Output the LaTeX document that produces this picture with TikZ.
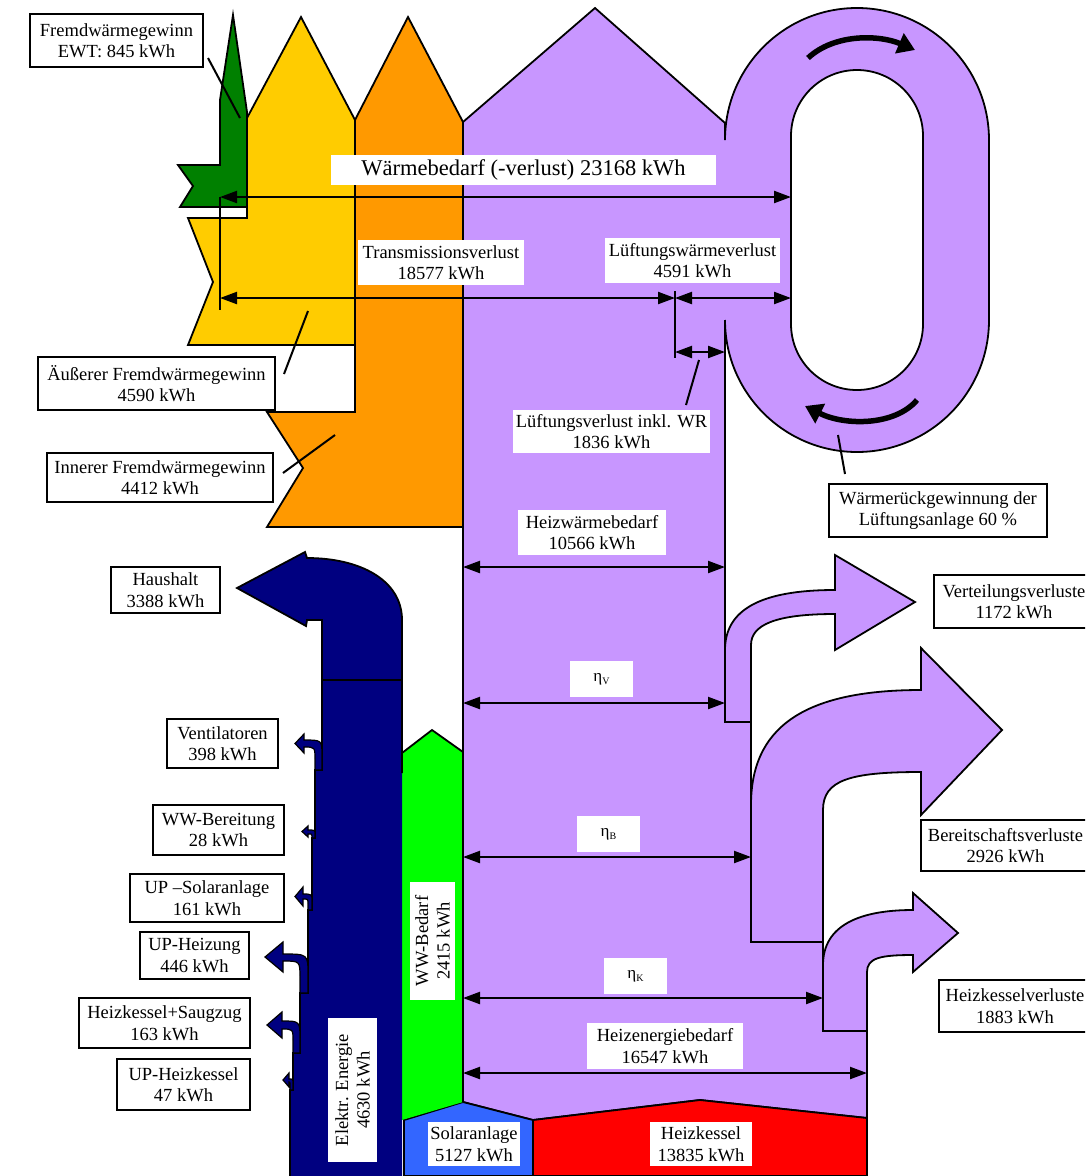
\documentclass[tikz,border=0pt]{standalone}
\usepackage{fontspec}
\setmainfont{Liberation Serif}
\usetikzlibrary{arrows.meta}
\definecolor{purp}{RGB}{200,150,255}
\definecolor{yel}{RGB}{255,204,0}
\definecolor{org}{RGB}{255,153,0}
\definecolor{dgreen}{RGB}{0,128,0}
\definecolor{navyb}{RGB}{0,0,128}
\definecolor{lgreen}{RGB}{0,255,0}
\definecolor{solblue}{RGB}{51,102,255}
\definecolor{hkred}{RGB}{255,0,0}
\newcommand\lblfont{\fontsize{18.5}{21.5}\selectfont}
\newcommand\bigfont{\fontsize{22.5}{26}\selectfont}
\newcommand\etalbl[1]{{\fontsize{17}{20}\selectfont η\raisebox{-3pt}{\fontsize{10}{12}\selectfont #1}}}
\tikzset{
  flow/.style={draw=black, line width=1.8pt, line join=miter},
  dim/.style={line width=2.2pt, {Triangle[length=17pt,width=12pt]}-{Triangle[length=17pt,width=12pt]}},
  lead/.style={line width=2pt},
  lbl/.style={fill=white, inner sep=0pt, align=center, font=\lblfont},
  bx/.style={lbl, draw=black, line width=2.2pt},
  rot/.style={line width=5.5pt, -{Triangle[length=17pt,width=21pt]}}
}
\begin{document}
\begin{tikzpicture}[x=1pt,y=-1pt]
\useasboundingbox (0,0) rectangle (1085,1176);
\clip (0,0) rectangle (1085,1176);

% ---- external gains (top left)
\path[flow, fill=dgreen] (233,15) -- (247,112) -- (247,207) -- (180,207) -- (193,186) -- (178,165) -- (220,165) -- (220,100) -- cycle;
\draw[line width=1.8pt] (247,207) -- (247,218);
\path[flow, fill=yel] (247,218) -- (247,118) -- (301,17) -- (355,120) -- (355,345) -- (188,345) -- (213,282) -- (188,218) -- cycle;
\path[flow, fill=org] (355,120) -- (408,17) -- (463,122) -- (463,527) -- (267,527) -- (303,468) -- (267,412) -- (355,412) -- cycle;

% ---- main purple flow with ventilation loop and losses
\path[flow, fill=purp] (463,122) -- (595,8) -- (725,123) -- (725,140)
  arc[start angle=180, end angle=0, radius=132pt] -- (989,320)
  arc[start angle=0, end angle=-180, radius=132pt] -- (725,650)
  .. controls (725,610) and (760,590) .. (835,590) -- (835,555) -- (915,602) -- (835,650) -- (835,614)
  .. controls (775,614) and (751,625) .. (751,645) -- (751,805)
  .. controls (751,730) and (800,690) .. (921,690) -- (921,648) -- (1002,730) -- (921,815) -- (921,772)
  .. controls (850,772) and (823,780) .. (823,810) -- (823,965)
  .. controls (823,925) and (860,910) .. (913,910) -- (913,893) -- (958,933) -- (913,972) -- (913,955)
  .. controls (880,955) and (867,958) .. (867,972) -- (867,1118) -- (700,1100) -- (533,1120) -- (463,1102) -- cycle;
\path[flow, fill=white] (791,136) arc[start angle=180, end angle=0, radius=66pt] -- (923,324)
  arc[start angle=0, end angle=-180, radius=66pt] -- cycle;
\draw[line width=1.8pt] (725,650) -- (725,722) -- (751,722);
\draw[line width=1.8pt] (751,805) -- (751,942) -- (823,942);
\draw[line width=1.8pt] (823,965) -- (823,1031) -- (867,1031);
\draw[rot] (808,58) .. controls (835,33) and (880,35) .. (915,50);
\draw[rot] (917,400) .. controls (895,426) and (845,426) .. (805,406);

% ---- sources at the bottom
\path[flow, fill=hkred] (533,1120) -- (700,1100) -- (867,1118) -- (867,1176) -- (533,1176) -- cycle;
\path[flow, fill=solblue] (404,1120) -- (463,1102) -- (533,1120) -- (533,1176) -- (404,1176) -- cycle;
\fill[lgreen] (402,753) -- (432,730) -- (463,752) -- (463,1102) -- (402,1120) -- cycle;
\draw[line width=1.8pt] (402,753) -- (432,730) -- (463,752);
\draw[line width=1.8pt] (463,122) -- (463,1102);

% ---- electric energy
\fill[navyb] (402,1176) -- (402,620) .. controls (402,580) and (360,558) .. (307,558) -- (305,552) -- (237,588) -- (306,626) -- (307,620) -- (322,620) -- (322,770) -- (315,770) -- (315,838) -- (312,838) -- (312,910) -- (308,910) -- (308,993) -- (300,993) -- (300,1053) -- (293,1053) -- (293,1090) -- (290,1090) -- (290,1176) -- cycle;
\draw[line width=1.8pt, line join=miter] (402,773) -- (402,620) .. controls (402,580) and (360,558) .. (307,558) -- (305,552) -- (237,588) -- (306,626) -- (307,620) -- (322,620) -- (322,770) -- (315,770) -- (315,838) -- (312,838) -- (312,910) -- (308,910) -- (308,993) -- (300,993) -- (300,1053) -- (293,1053) -- (293,1090) -- (290,1090) -- (290,1176);
\draw[line width=1.8pt] (322,680) -- (402,680);
\path[flow, line width=1.2pt, fill=navyb] (322,770) -- (322,756) .. controls (322,740) .. (304,740) -- (304,734) -- (295,743.5) -- (304,753) -- (304,747) .. controls (315,747) .. (315,760) -- (315,770) -- cycle;
\path[flow, line width=1.2pt, fill=navyb] (315,838) -- (315,834) .. controls (315,830) .. (308,830) -- (308,826) -- (302,831.5) -- (308,837) -- (308,834) .. controls (312,834) .. (312,836) -- (312,838) -- cycle;
\path[flow, line width=1.2pt, fill=navyb] (312,910) -- (312,902) .. controls (312,894) .. (303,894) -- (303,887) -- (295,896.5) -- (303,906) -- (303,899) .. controls (308,899) .. (308,904) -- (308,910) -- cycle;
\path[flow, line width=1.2pt, fill=navyb] (308,993) -- (308,975) .. controls (308,954) .. (283,954) -- (283,942) -- (265,957) -- (283,972) -- (283,961) .. controls (300,961) .. (300,978) -- (300,993) -- cycle;
\path[flow, line width=1.2pt, fill=navyb] (300,1053) -- (300,1040) .. controls (300,1021) .. (282,1021) -- (282,1012) -- (267,1025) -- (282,1038) -- (282,1029) .. controls (293,1029) .. (293,1041) -- (293,1053) -- cycle;
\path[flow, line width=1.2pt, fill=navyb] (293,1090) -- (293,1084) .. controls (293,1079) .. (289,1079) -- (289,1073) -- (283,1080) -- (289,1087) -- (289,1082) .. controls (290,1082) .. (290,1085) -- (290,1090) -- cycle;

% ---- dimension arrows
\coordinate (dL1) at (220,197); \coordinate (dR1) at (791,197);
\coordinate (dL2) at (220,298); \coordinate (dM2) at (675,298); \coordinate (dR2) at (791,298);
\coordinate (dL3) at (675,352); \coordinate (dR3) at (725,352);
\coordinate (hwL) at (463,567); \coordinate (hwR) at (725,567);
\coordinate (evL) at (463,703); \coordinate (evR) at (725,703);
\coordinate (ebL) at (463,857); \coordinate (ebR) at (751,857);
\coordinate (ekL) at (463,998); \coordinate (ekR) at (823,998);
\coordinate (heL) at (463,1073); \coordinate (heR) at (867,1073);
\draw[line width=1.5pt] (220,197) -- (220,273);
\draw[line width=2.5pt] (220,273) -- (220,310);
\draw[line width=1.8pt] (675,291) -- (675,358);
\draw[dim] (dL1) -- (dR1);
\draw[dim] (dL2) -- (dM2);
\draw[dim] (dM2) -- (dR2);
\draw[dim] (dL3) -- (dR3);
\draw[dim] (hwL) -- (hwR);
\draw[dim] (evL) -- (evR);
\draw[dim] (ebL) -- (ebR);
\draw[dim] (ekL) -- (ekR);
\draw[dim] (heL) -- (heR);

% ---- labels
\node[bx, minimum width=173pt, minimum height=53pt] (ewt) at (116.5,40.5) {Fremdwärmegewinn\\EWT: 845 kWh};
\node[lbl, font=\bigfont, minimum width=385pt, minimum height=30pt] (wb) at (523.5,170) {Wärmebedarf (-verlust) 23168 kWh};
\node[lbl, minimum width=166pt, minimum height=45pt] (tv) at (441,262.5) {Transmissionsverlust\\18577 kWh};
\node[lbl, minimum width=175pt, minimum height=45pt] (lwv) at (692.5,260.5) {Lüftungswärmeverlust\\4591 kWh};
\node[bx, minimum width=237pt, minimum height=53pt] (afg) at (156.5,383.5) {Äußerer Fremdwärmegewinn\\4590 kWh};
\node[bx, minimum width=226pt, minimum height=49pt] (ifg) at (160,477.5) {Innerer Fremdwärmegewinn\\4412 kWh};
\node[lbl, minimum width=197pt, minimum height=43pt] (lvw) at (611.5,431.5) {Lüftungsverlust inkl. WR\\1836 kWh};
\node[lbl, minimum width=148pt, minimum height=45pt] (hwb) at (592,532.5) {Heizwärmebedarf\\10566 kWh};
\node[bx, minimum width=218pt, minimum height=53pt] (wrg) at (938,510.5) {Wärmerückgewinnung der\\Lüftungsanlage 60 \%};
\node[bx, minimum width=160pt, minimum height=53pt] (vv) at (1014,601.5) {Verteilungsverluste\\1172 kWh};
\node[bx, minimum width=169pt, minimum height=51pt] (bv) at (1005.5,845.5) {Bereitschaftsverluste\\2926 kWh};
\node[bx, minimum width=152pt, minimum height=52pt] (hkv) at (1015,1006) {Heizkesselverluste\\1883 kWh};
\node[lbl, minimum width=63pt, minimum height=36pt] (etav) at (601.5,679) {\etalbl{V}};
\node[lbl, minimum width=63pt, minimum height=36pt] (etab) at (608.5,834) {\etalbl{B}};
\node[lbl, minimum width=63pt, minimum height=36pt] (etak) at (635.5,976) {\etalbl{K}};
\node[lbl, minimum width=156pt, minimum height=46pt] (heb) at (665,1046) {Heizenergiebedarf\\16547 kWh};
\node[lbl, minimum width=92pt, minimum height=44pt] (sol) at (474,1144) {Solaranlage\\5127 kWh};
\node[lbl, minimum width=102pt, minimum height=44pt] (hk) at (701,1144) {Heizkessel\\13835 kWh};
\node[bx, minimum width=109pt, minimum height=46pt] (hh) at (165.5,590) {Haushalt\\3388 kWh};
\node[bx, minimum width=111pt, minimum height=49pt] (vent) at (222.5,743.5) {Ventilatoren\\398 kWh};
\node[bx, minimum width=131pt, minimum height=50pt] (wwbt) at (218.5,830) {WW-Bereitung\\28 kWh};
\node[bx, minimum width=154pt, minimum height=48pt] (ups) at (207,898) {UP –Solaranlage\\161 kWh};
\node[bx, minimum width=109pt, minimum height=47pt] (uph) at (194.5,955.5) {UP-Heizung\\446 kWh};
\node[bx, minimum width=171pt, minimum height=50pt] (hks) at (164.5,1023) {Heizkessel+Saugzug\\163 kWh};
\node[bx, minimum width=133pt, minimum height=51pt] (uphk) at (183.5,1084.5) {UP-Heizkessel\\47 kWh};
\node[lbl, rotate=90, minimum width=118pt, minimum height=45pt] (wwb) at (432.5,941) {WW-Bedarf\\2415 kWh};
\node[lbl, rotate=90, minimum width=144pt, minimum height=49pt] (ele) at (352.5,1090) {Elektr. Energie\\4630 kWh};

% ---- leader lines
\coordinate (p1) at (240,118);
\coordinate (p2) at (308,311);
\coordinate (p3) at (335,435);
\coordinate (p4) at (699,360);
\coordinate (p5) at (838,435);
\draw[lead] (208,58) -- (p1);
\draw[lead] (284,374) -- (p2);
\draw[lead] (283,473) -- (p3);
\draw[lead] (686,405) -- (p4);
\draw[lead] (845,474) -- (p5);
\end{tikzpicture}
\end{document}
